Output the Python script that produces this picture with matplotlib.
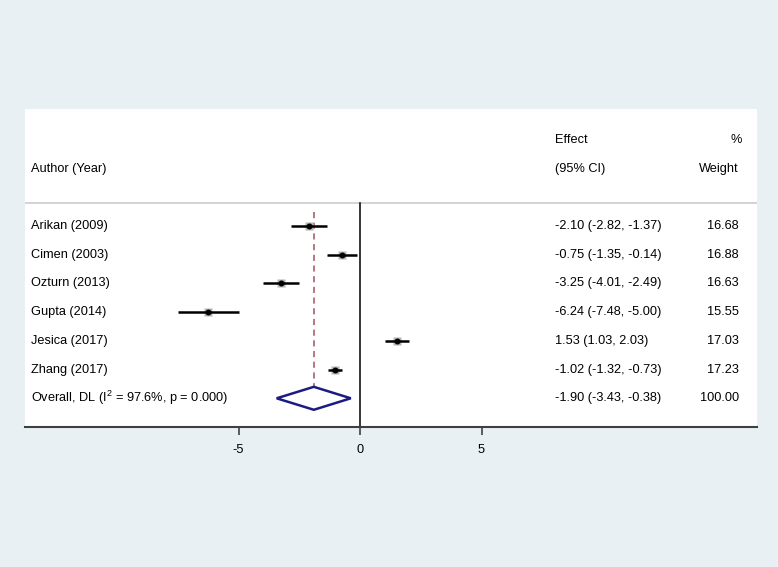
import numpy as np
import matplotlib
matplotlib.use("Agg")
import matplotlib.pyplot as plt

plt.rcParams['font.family'] = ['Liberation Sans', 'DejaVu Sans']
plt.rcParams['mathtext.fontset'] = 'custom'
plt.rcParams['mathtext.rm'] = 'Liberation Sans'

# study data
studies = ["Arikan (2009)", "Cimen (2003)", "Ozturn (2013)", "Gupta (2014)",
           "Jesica (2017)", "Zhang (2017)"]
effect = [-2.10, -0.75, -3.25, -6.24, 1.53, -1.02]
lower = [-2.82, -1.35, -4.01, -7.48, 1.03, -1.32]
upper = [-1.37, -0.14, -2.49, -5.00, 2.03, -0.73]
weight = [16.68, 16.88, 16.63, 15.55, 17.03, 17.23]

# pooled estimate
overall_label = r"Overall, DL (I$^{2}$ = 97.6%, p = 0.000)"
overall = -1.90
overall_lo = -3.43
overall_hi = -0.38
overall_weight = 100.00

xticks = [-5, 0, 5]

bg = '#e8f0f3'
fig = plt.figure(figsize=(7.78, 5.67), dpi=100, facecolor=bg)
ax = fig.add_axes([25 / 778, 1 - 427 / 567, 732 / 778, 318 / 567])
ax.set_facecolor('white')

n = len(studies)
rows = np.arange(n)
row_ov = n

x_left = (25 - 360) / 24.3
x_right = (757 - 360) / 24.3
ax.set_xlim(x_left, x_right)
ax.set_ylim(row_ov + 1, -4.08)

# header separator
ax.axhline(-0.8, color='#cccccc', lw=1.2)

# null line
ax.plot([0, 0], [-0.8, row_ov + 1], color='black', lw=1.1)
# overall dashed line
ax.plot([overall, overall], [-0.5, row_ov + 0.42], color='#a0525a', lw=1.1,
        ls=(0, (4, 3)), zorder=1)

# confidence intervals and points
for i in range(n):
    ax.plot([lower[i], upper[i]], [rows[i], rows[i]], color='black', lw=1.8,
            solid_capstyle='butt', zorder=3)
ax.plot(effect, rows, 's', color='#b5b5b5', ms=5.5, mec='none', zorder=2)
ax.plot(effect, rows, 'o', color='black', ms=3.3, zorder=4)

# diamond
dx = [overall_lo, overall, overall_hi, overall, overall_lo]
dy = [row_ov, row_ov - 0.4, row_ov, row_ov + 0.4, row_ov]
ax.fill(dx, dy, facecolor='white', edgecolor='#1c1c80', lw=1.8, zorder=3)

# text columns
tr = ax.get_yaxis_transform()
fs = 9.2
ax.text(0.0085, -2, "Author (Year)", transform=tr, fontsize=fs, va='center')
ax.text(0.724, -3, "Effect", transform=tr, fontsize=fs, va='center')
ax.text(0.724, -2, "(95% CI)", transform=tr, fontsize=fs, va='center')
ax.text(0.979, -3, "%", transform=tr, fontsize=fs, va='center', ha='right')
ax.text(0.975, -2, "Weight", transform=tr, fontsize=fs, va='center', ha='right')

for i in range(n):
    ax.text(0.0085, rows[i], studies[i], transform=tr, fontsize=fs, va='center')
    ax.text(0.724, rows[i], "%.2f (%.2f, %.2f)" % (effect[i], lower[i], upper[i]),
            transform=tr, fontsize=fs, va='center')
    ax.text(0.975, rows[i], "%.2f" % weight[i], transform=tr, fontsize=fs,
            va='center', ha='right')

ax.text(0.0085, row_ov, overall_label, transform=tr, fontsize=fs, va='center')
ax.text(0.724, row_ov, "%.2f (%.2f, %.2f)" % (overall, overall_lo, overall_hi),
        transform=tr, fontsize=fs, va='center')
ax.text(0.975, row_ov, "%.2f" % overall_weight, transform=tr, fontsize=fs,
        va='center', ha='right')

# axes styling
for s in ['top', 'left', 'right']:
    ax.spines[s].set_visible(False)
ax.spines['bottom'].set_color('#404040')
ax.spines['bottom'].set_linewidth(1.5)
ax.set_yticks([])
ax.set_xticks(xticks)
ax.set_xticklabels([str(t) for t in xticks])
ax.tick_params(axis='x', length=6, width=1.2, color='#404040', labelsize=fs, pad=6)

fig.savefig('out.png', dpi=100, facecolor=bg)
